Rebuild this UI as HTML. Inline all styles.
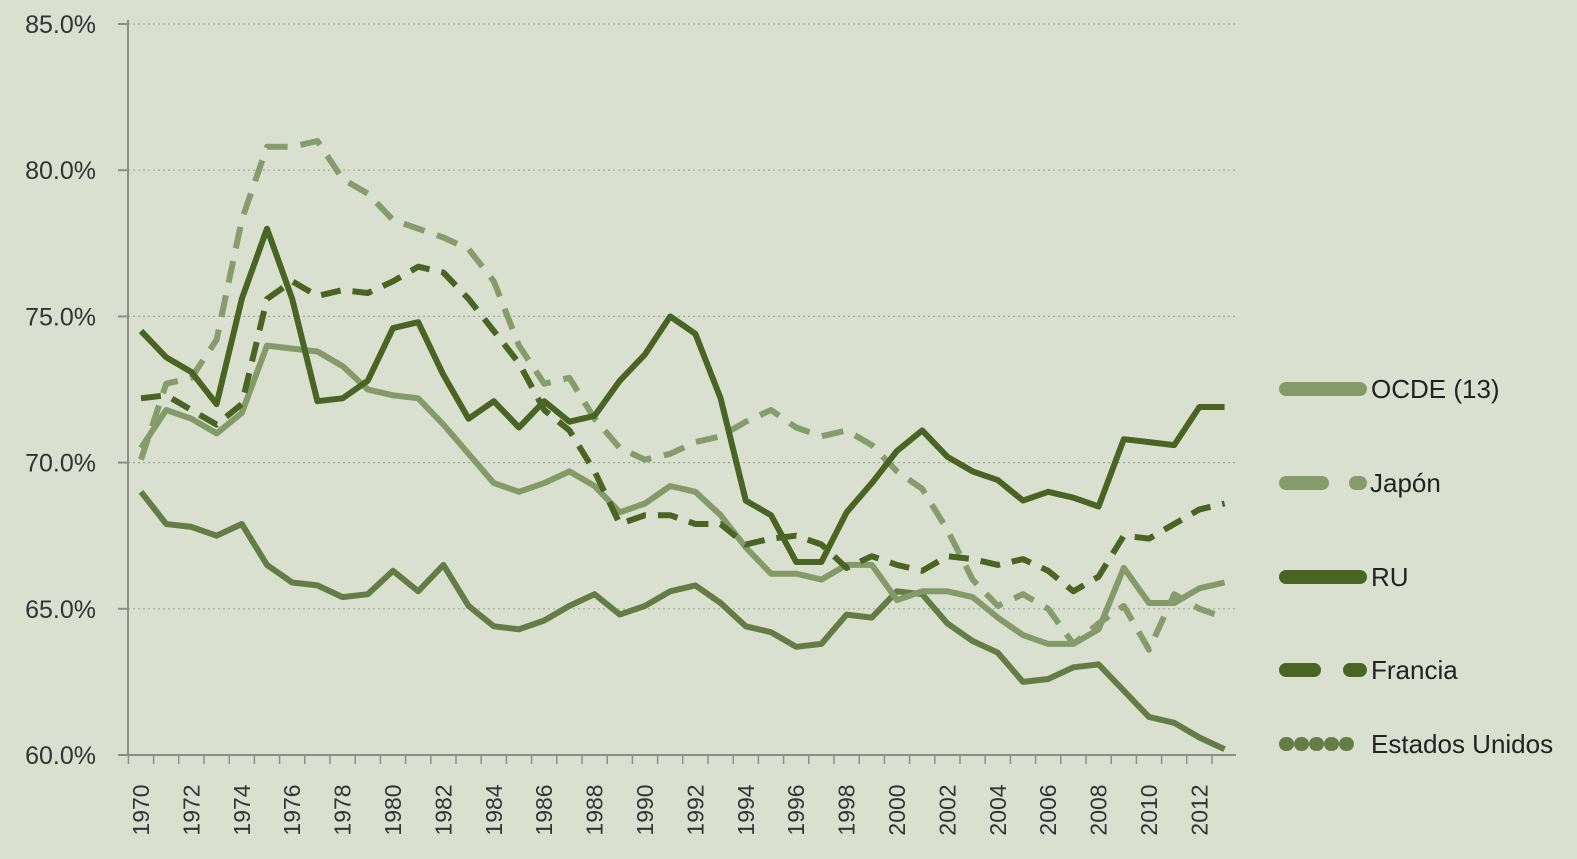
<!DOCTYPE html>
<html><head><meta charset="utf-8"><style>
body{margin:0;background:#d9e0cf;}
svg{display:block;font-family:"Liberation Sans",sans-serif;}
</style></head><body>
<svg id="c" width="1577" height="859" viewBox="0 0 1577 859">
<rect width="1577" height="859" fill="#d9e0cf"/>
<g id="grid"></g><g id="axes"></g><g id="series"></g><g id="legend"></g>
</svg>
<script>
const years=[];for(let y=1970;y<=2013;y++)years.push(y);
const yTicks=[60,65,70,75,80,85];
const ocde=[70.5,71.8,71.5,71.0,71.7,74.0,73.9,73.8,73.3,72.5,72.3,72.2,71.3,70.3,69.3,69.0,69.3,69.7,69.2,68.3,68.6,69.2,69.0,68.2,67.1,66.2,66.2,66.0,66.5,66.5,65.3,65.6,65.6,65.4,64.7,64.1,63.8,63.8,64.3,66.4,65.2,65.2,65.7,65.9];
const japon=[70.1,72.7,72.9,74.2,78.3,80.8,80.8,81.0,79.7,79.2,78.3,78.0,77.7,77.3,76.2,74.0,72.7,72.9,71.5,70.5,70.1,70.3,70.7,70.9,71.4,71.8,71.2,70.9,71.1,70.6,69.7,69.1,67.7,66.0,65.1,65.5,65.0,63.8,64.5,65.1,63.6,65.5,65.0,64.7];
const ru=[74.5,73.6,73.1,72.0,75.6,78.0,75.6,72.1,72.2,72.8,74.6,74.8,73.0,71.5,72.1,71.2,72.1,71.4,71.6,72.8,73.7,75.0,74.4,72.2,68.7,68.2,66.6,66.6,68.3,69.3,70.4,71.1,70.2,69.7,69.4,68.7,69.0,68.8,68.5,70.8,70.7,70.6,71.9,71.9];
const francia=[72.2,72.3,71.8,71.3,72.0,75.6,76.2,75.7,75.9,75.8,76.2,76.7,76.5,75.6,74.5,73.4,71.8,71.1,69.7,67.9,68.2,68.2,67.9,67.9,67.2,67.4,67.5,67.2,66.4,66.8,66.5,66.3,66.8,66.7,66.5,66.7,66.3,65.6,66.1,67.5,67.4,67.9,68.4,68.6];
const eeuu=[69.0,67.9,67.8,67.5,67.9,66.5,65.9,65.8,65.4,65.5,66.3,65.6,66.5,65.1,64.4,64.3,64.6,65.1,65.5,64.8,65.1,65.6,65.8,65.2,64.4,64.2,63.7,63.8,64.8,64.7,65.6,65.5,64.5,63.9,63.5,62.5,62.6,63.0,63.1,62.2,61.3,61.1,60.6,60.2];
const NS='http://www.w3.org/2000/svg';
const X=yr=>141+(yr-1970)*25.2;
const Y=v=>755-(v-60)*29.24;
function mk(t,a,p){const e=document.createElementNS(NS,t);for(const k in a)e.setAttribute(k,a[k]);p.appendChild(e);return e;}
const grid=document.getElementById('grid'),axes=document.getElementById('axes'),ser=document.getElementById('series'),leg=document.getElementById('legend');
yTicks.forEach(v=>{
 if(v>60){const l=mk('line',{x1:128,x2:1236,y1:Y(v),y2:Y(v),stroke:'#a0a69a','stroke-width':1.2,'stroke-dasharray':'2,3'},grid);
 
 }
 const tk=mk('line',{x1:118,x2:128,y1:Y(v),y2:Y(v),stroke:'#8a8f86','stroke-width':2},axes);
 
 
 const t=mk('text',{x:96,y:Y(v)+9,'text-anchor':'end','font-size':25,fill:'#333'},axes);t.textContent=v.toFixed(1)+'%';
 
 
});
const ya=mk('line',{x1:128,x2:128,y1:20,y2:756,stroke:'#8a8f86','stroke-width':2},axes);


const xa=mk('line',{x1:127,x2:1236,y1:755,y2:755,stroke:'#8a8f86','stroke-width':2},axes);


years.forEach(yr=>{
 const tk=mk('line',{x1:X(yr)-12.6,x2:X(yr)-12.6,y1:755,y2:764,stroke:'#8a8f86','stroke-width':1.5},axes);
 
 
 if(yr%2===0&&yr<=2012){const t=mk('text',{transform:`translate(${X(yr)+8},${810}) rotate(-90)`,'text-anchor':'middle','font-size':23,fill:'#333'},axes);t.textContent=yr;
 
 }
});
const defs=[
 {name:'eeuu',data:eeuu,c:'#647d46',d:'',lab:'Estados Unidos',ld:'1,14'},
 {name:'ocde',data:ocde,c:'#849a68',d:'',lab:'OCDE (13)',ld:''},
 {name:'japon',data:japon,c:'#879c6c',d:'22,13',lab:'Japón',ld:'36,34'},
 {name:'francia',data:francia,c:'#4a6424',d:'20,12',lab:'Francia',ld:'28,36'},
 {name:'ru',data:ru,c:'#4a6424',d:'',lab:'RU',ld:''}
];
defs.forEach(s=>{
 const p=mk('path',{d:s.data.map((v,i)=>(i?'L':'M')+X(years[i]).toFixed(1)+','+Y(v).toFixed(1)).join(''),fill:'none',stroke:s.c,'stroke-width':6,'stroke-linejoin':'round','stroke-dasharray':s.d||'none'},ser);
 
 
});
const legRows=[['ocde',389],['japon',483],['ru',577],['francia',670],['eeuu',744]];
legRows.forEach(([n,y])=>{
 const s=defs.find(d=>d.name===n);
 const g=mk('g',{},leg);
 
 
 mk('line',{x1:1286,x2:1360,y1:y,y2:y,stroke:s.c,'stroke-width':14,'stroke-linecap':'round','stroke-dasharray':s.ld||'none'},g);
 const t=mk('text',{x:n==='japon'?1370:1371,y:y+9,'font-size':26,fill:'#222'},g);t.textContent=s.lab;
});
</script>
</body></html>
